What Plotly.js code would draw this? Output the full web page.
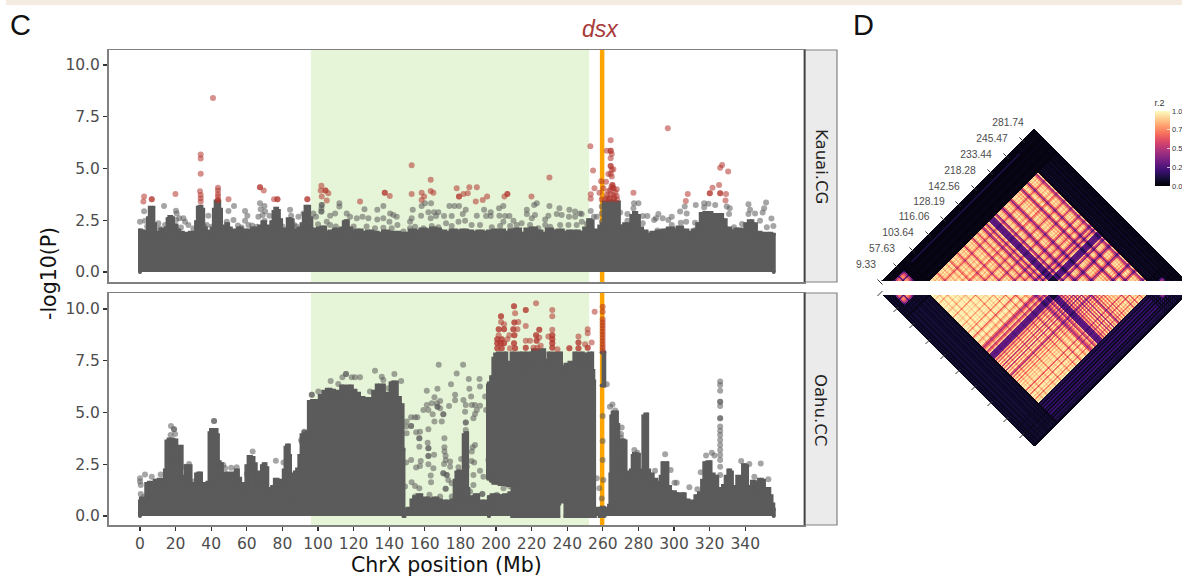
<!DOCTYPE html>
<html><head><meta charset="utf-8">
<script src="https://cdn.plot.ly/plotly-3.0.1.min.js"></script>
<style>html,body{margin:0;padding:0;background:#fff;overflow:hidden}</style>
</head><body><div id="chart" style="width:1182px;height:578px"></div>
<script>
// ---------- Manhattan data (Mb, -log10 P) ----------
const panelNames = ["Kauai.CG", "Oahu.CC"];
const xTicks = [0,20,40,60,80,100,120,140,160,180,200,220,240,260,280,300,320,340];
const yTicks = [0,2.5,5,7.5,10];
const yTickText = ["0.0","2.5","5.0","7.5","10.0"];
const inversionRegion = [96, 252.3];
const dsxPosition = 259.6;

const kauaiMass = [[0,0],[0,2.0],[1,1.9],[2,1.95],[3,1.8],[4,1.9],[5,2.6],[6,3.1],[7,3.1],[8,2.3],[9,1.85],[11,1.9],[12,2.05],[14,1.9],[15,2.1],[16,2.55],[17,2.65],[18,2.6],[19,2.2],[20,2.25],[21,2.0],[23,1.9],[25,1.85],[27,1.8],[29,1.9],[31,1.85],[32,2.4],[33,3.1],[34,3.15],[35,3.0],[36,2.1],[38,1.85],[40,1.95],[41,2.1],[42,3.0],[43,3.4],[44,3.4],[45,3.0],[46,2.1],[47,2.0],[48,2.2],[49,2.3],[50,2.1],[52,1.95],[54,2.0],[56,2.1],[58,1.9],[60,2.0],[62,2.0],[64,2.1],[66,2.05],[68,2.2],[69.5,2.4],[71,2.2],[73,2.0],[74.5,2.4],[75.5,2.9],[76.5,3.05],[77.5,2.95],[78.5,2.5],[80,2.0],[82,2.05],[84,2.55],[85,2.5],[86.5,2.0],[88,2.0],[90,2.1],[91.5,2.3],[92.5,2.8],[93.5,3.15],[94.5,3.15],[95.5,2.6],[97,2.05],[99,2.0],[101,2.1],[103,2.15],[105,1.9],[108,1.95],[110,2.05],[112,1.9],[114,2.1],[115,2.4],[116,2.45],[117.5,2.1],[120,1.95],[123,2.0],[126,1.9],[129,1.95],[132,1.9],[135,1.85],[138,1.95],[141,1.9],[144,1.9],[147,1.85],[150,1.85],[153,2.0],[156,1.95],[159,2.05],[162,2.0],[165,2.1],[167,2.05],[170,1.95],[173,1.9],[176,2.0],[179,1.95],[182,2.0],[185,1.95],[188,1.9],[191,1.95],[194,1.9],[197,1.95],[200,2.0],[203,2.0],[206,1.9],[209,2.0],[212,2.05],[215,1.85],[218,2.05],[221,2.1],[224,1.95],[227,1.85],[230,2.05],[233,1.95],[236,2.0],[239,1.9],[242,1.95],[245,1.95],[248,1.9],[251,2.1],[252.5,2.5],[253.5,2.45],[255,2.0],[257,1.9],[259,2.2],[260,2.3],[261,3.35],[265,3.4],[268.5,3.35],[269.5,2.2],[271,2.0],[273,2.3],[275,2.1],[277,2.7],[278,2.85],[279.5,2.7],[281,2.1],[283,1.95],[286,1.8],[289,1.9],[292,1.95],[295,2.0],[298,2.1],[301,2.0],[303,2.15],[306,2.0],[309,1.9],[312,2.0],[314,2.3],[316,2.8],[318,2.85],[320,2.85],[322,2.4],[324,2.75],[326,2.75],[328,2.5],[330,2.1],[333,1.95],[336,2.05],[339,2.0],[341,2.3],[343,2.45],[345,2.3],[347,1.9],[350,1.85],[353,1.85],[356,1.8],[356,0]];

const kauaiGray = [[2.3,2.93],[13.5,3.19],[20.2,2.96],[20.6,2.83],[22.1,2.59],[24.4,2.59],[25.3,2.43],[27.2,2.27],[20.2,2.51],[38.4,2.72],[0,2.43],[2.8,2.48],[10.3,2.35],[14.1,2.27],[37.5,2.27],[40.3,2.19],[49.7,2.95],[52.8,3.19],[52.5,2.51],[48.7,2.43],[59,2.95],[60.3,2.72],[59,2.48],[60.9,2.27],[67.4,3.32],[69.9,3.19],[67.8,3.03],[70.3,2.92],[68.9,2.75],[66.5,2.67],[69.9,2.48],[65.6,2.19],[72.7,2.72],[84.3,3],[84.9,2.72],[83.9,2.48],[89,2.67],[91.8,2.83],[86.6,2.27],[102.1,3.24],[102.1,3.24],[101.9,3.08],[101.9,2.92],[101.9,2.92],[97.4,2.83],[98.9,2.67],[106.8,2.72],[109.6,2.83],[112,3.32],[112,3.16],[104.9,2.43],[106.8,2.27],[116.1,2.83],[118,2.67],[121.8,2.59],[125,2.67],[126.1,3.03],[128.3,2.59],[133.3,3],[133.3,2.54],[136.7,3.19],[136.7,2.59],[140.5,2.83],[142.3,2.75],[140.1,2.43],[144.2,2.67],[144.6,2.27],[153.2,3],[152.6,2.59],[151.7,2.43],[158.2,3.19],[160.1,3.32],[163.5,3.32],[157.9,2.72],[162,2.88],[165.2,2.88],[167.6,2.88],[163.3,2.59],[166.3,2.71],[170.8,2.71],[173.8,3.19],[176.6,3.19],[179.2,3.19],[175.1,2.71],[181.3,2.8],[183,3],[189.2,2.72],[193.3,3],[197,2.88],[194.4,2.71],[197,2.71],[201.7,3.08],[204.1,3.19],[201.9,2.72],[205.1,2.71],[207.5,2.71],[209.8,2.48],[204.1,2.43],[217.3,3],[217.3,2.8],[221.4,3.24],[222.9,3.32],[221.9,2.75],[220.1,2.59],[230,3.19],[229.4,2.72],[227.6,2.54],[235.6,3.08],[234.1,2.8],[236.9,2.75],[241.2,3],[244.4,2.92],[247.2,2.83],[241,2.67],[244.4,2.67],[253.2,2.95],[256.6,2.67],[248.2,2.43],[248.1,2.8],[255,2.67],[259.4,3.16],[259.4,2.83],[259.4,2.43],[269.7,2.87],[271.5,2.19],[277.5,3.32],[280,3.32],[277.2,3.08],[273.8,2.8],[273.8,2.48],[282.4,2.71],[285,2.71],[282.4,2.35],[291.2,2.8],[289.9,2.59],[288.8,2.51],[293.6,2.59],[296.8,2.51],[298.7,2.67],[303.4,2.92],[306,3.16],[307.1,2.83],[306.8,2.43],[303.8,2.38],[298.7,2.27],[312.2,3.24],[316.9,3.32],[319.3,3.29],[323.1,3.24],[316.9,3.12],[329.6,3.16],[331.3,3.08],[330.9,2.8],[341.8,3.27],[342.7,3],[345.5,2.83],[341.8,2.8],[351.7,3.35],[350.6,3.08],[349.8,2.87],[348.3,2.47],[354.7,2.58],[333.7,2.16],[338.2,2.32],[355.8,2.22],[311.8,2.38],[311.8,2.03],[352.1,2.16],[285.6,1.84],[290.7,2.0],[127.3,2.2],[132,2.11],[136.7,2.14],[141.4,2.11],[148,1.95],[151.7,2.11],[154.5,2.19],[159.2,2.11],[163.9,2.22],[167.6,2.16],[171.9,2.35],[175.1,2.22],[178.9,2.43],[182.6,2.48],[186.3,2.27],[191,2.27],[197.6,2.16],[202.3,2.22],[207.9,2.22],[211.6,2.27],[214.4,2.35],[219.1,2.27],[223.8,2.11],[227.6,2.27],[230.4,2.19],[236,2.27],[240.7,2.27],[245.3,2.27],[251,2.32],[4,2.2],[11,2.1],[23,2.15],[30,2.1],[36,2.2],[44,2.25],[55,2.25],[57,2.15],[63,2.25],[75,2.1],[80,2.2],[88,2.2],[95,2.3],[100,2.3],[110,2.2],[120,2.2]];

const kauaiRed = [[41,8.4],[34.1,5.67],[34.1,5.48],[34.1,4.75],[19.9,3.77],[2.3,3.64],[1.9,3.41],[6.6,3.51],[6.6,3.51],[33.7,3.9],[34.1,3.72],[34.1,3.56],[34.1,3.4],[43.8,4.07],[43.8,3.93],[43.8,3.77],[43.8,3.64],[43.8,3.48],[43.8,3.48],[49.7,3.51],[67.4,4.09],[67.4,4.09],[69.5,3.93],[75.3,3.51],[77.2,3.51],[77.2,3.51],[94,3.51],[94,3.51],[101.9,4.16],[101.5,3.93],[104.2,3.93],[104.2,3.93],[105.8,3.8],[102.1,3.64],[104.9,3.45],[123.6,3.41],[152.6,5.15],[163.3,4.45],[137.5,3.83],[137.5,3.83],[140.3,3.67],[152.6,3.77],[158.2,3.83],[159.6,3.64],[158.2,3.48],[163.3,3.91],[164.8,3.83],[179.2,3.64],[179.2,3.64],[177.9,4.04],[181.7,3.77],[184.1,3.8],[185,4.09],[189.2,4.09],[188.6,3.41],[192.5,3.48],[195,3.64],[204.7,3.64],[206.4,3.77],[206.4,3.77],[219.9,3.64],[230,4.56],[253.2,3.75],[253.2,3.54],[254.5,4.9],[255.3,4.04],[258.1,3.83],[296.5,6.94],[264.4,6.36],[253,6.07],[262.2,5.85],[264.4,5.86],[264.4,5.86],[265,5.7],[264.4,5.49],[264.4,5.12],[264.4,5.12],[265,4.93],[265.9,4.96],[264.4,4.73],[265,4.61],[263.1,4.73],[261.8,4.36],[259,4.38],[260.3,4.04],[265.4,4.2],[265.4,4.2],[265.9,4.04],[265.9,4.04],[267.8,3.99],[264.1,3.96],[262.2,3.72],[265.9,3.72],[267.8,3.67],[263.1,3.51],[265.9,3.51],[259.4,3.51],[261.5,3.5],[262.5,3.6],[264,3.55],[264.5,3.75],[266.5,3.6],[267,3.85],[268,3.5],[263,3.9],[264.8,4.1],[277.2,3.83],[307.7,3.77],[306.6,3.43],[320.1,3.8],[320.1,3.8],[321.6,4.07],[325.3,4.2],[325.9,3.8],[325.9,3.8],[329.2,3.77],[328.9,3.45],[327,5.17],[325.9,5.04],[330.4,4.85]];

const oahuMass = [
[0,0],[0,.7],[1,.85],[2,.7],[3,.8],[4,1.55],[6,1.6],[7.5,1.55],[9,1.7],[12,1.75],[13.5,1.5],[14.5,2.2],[15.2,3.6],[17,3.7],[20,3.65],[20.8,2.6],[21.3,3.3],[23,3.35],[23.8,1.9],[25.5,1.4],[26.2,2.4],[28,2.4],[28.8,1.5],[31,1.55],[32,2.0],[33.5,2.05],[35,1.55],[37,1.45],[38.8,1.6],[39.3,4.0],[40.5,4.15],[42.5,4.15],[43.5,3.9],[44,2.6],[45.5,2.5],[46.5,1.9],[48.5,2.05],[51,2.0],[53,2.05],[54.5,2.2],[55.5,1.8],[57,1.55],[59,1.25],[60.5,2.4],[61.5,2.85],[63,2.8],[64.5,2.5],[65.5,2.1],[67,1.5],[68,1.4],[69,2.4],[70,2.5],[71,2.3],[72,1.3],[73.5,.95],[75,1.4],[76.5,1.75],[78,1.65],[80,1.7],[81.5,2.2],[82,3.3],[83.2,3.4],[84,2.9],[84.5,2.0],[85.5,.9],[86.5,.7],[87.5,2.1],[89,2.25],[90,2.9],[91.5,3.9],[93,4.0],[94.5,4.05],[95.2,5.5],[98,5.55],[100,5.55],[102,5.8],[104,6.0],[106,6.1],[108,6.05],[110,5.85],[112,6.0],[114,6.25],[118,6.25],[120,6.05],[122,5.9],[124,5.7],[127,5.65],[130,5.65],[132,6.0],[134,6.3],[136,6.3],[138,5.9],[140,5.85],[141.5,6.4],[143.5,6.45],[145,5.7],[147,5.35],[148,3.2],[148,0],[null,null],
[148,0],[149,.3],[152,.35],[153,.75],[155,.9],[157,1.0],[159,.8],[161,.85],[162.5,.55],[164,.8],[166,.85],[168,.75],[170,.45],[172,.7],[174,.5],[176,.75],[177.5,1.7],[178,2.1],[179.5,2.15],[180.3,1.0],[181.5,.5],[182.2,3.9],[183.5,4.0],[184,1.3],[185,.85],[187,.9],[189,1.0],[191,.6],[193,.7],[195,.5],[196,.6],[196,0],[null,null],
[195.5,1.8],[195.5,6.3],[196.5,6.4],[198,6.7],[199,7.6],[200,7.8],[202,7.85],[205,7.85],[206.5,7.3],[208,7.4],[209.5,7.85],[214,7.85],[214.6,7.0],[215.8,7.1],[216.5,7.85],[219.5,7.85],[220.5,7.3],[221,8.0],[226.5,8.0],[227.5,7.5],[229,7.4],[230,7.85],[236,7.85],[237,7.1],[238.5,7.2],[239.5,7.3],[243,7.4],[245,7.85],[248,7.85],[249.5,7.4],[251,7.8],[253.7,7.85],[254.3,7.0],[255,6.5],[255.2,.4],[255,0],[239,0],[239,.7],[236,1.4],[235,.6],[235,0],[209.5,0],[209,1.5],[204,1.55],[200,1.6],[197,1.7],[null,null],
[196,0],[196,.9],[199,1.0],[203,.95],[206,1.0],[209,1.1],[209.5,0],[null,null],
[255,0],[256,.3],[258,.35],[258.5,0],[null,null],
[259.3,6.3],[260.8,6.3],[260.8,7.9],[259.3,7.9],[null,null],
[259.5,0],[259.5,.4],[260.5,.4],[260.5,0],[null,null],
[261,0],[261,.3],[263,.35],[264,.5],[264.5,2],[265,4.8],[266,5.0],[267.5,5.0],[268.3,4.4],[269,2.5],[270,3.4],[271,3.65],[272.5,3.6],[273,2.1],[275,2.05],[276.5,2.2],[277,2.9],[278,3.0],[280,2.95],[280.5,2.2],[282.5,2.0],[283,4.8],[284.8,4.9],[285,2.2],[287,2.0],[289,1.75],[291,1.6],[292,1.5],[293,1.9],[294,2.55],[296,2.55],[296.5,1.4],[299,1.15],[302,1.05],[305,1.05],[307,.75],[309,.7],[311,.6],[313,.95],[315,1.1],[316.5,1.7],[317.5,2.55],[320,2.6],[321,2.0],[323.5,1.9],[325,1.3],[327,1.3],[328,1.45],[330,1.9],[331,2.2],[332,2.1],[333,1.4],[335,1.3],[336,1.9],[338,1.85],[339.5,2.45],[340.5,2.4],[341.5,1.4],[343,1.4],[344.5,1.65],[346,1.6],[347,1.1],[348.5,1.75],[350,1.7],[351,1.0],[353,1.3],[354,.95],[355.5,.55],[356,.3],[356,0]];

const oahuGray = [[167.8,7.31],[181.5,7.31],[177.9,6.88],[184.7,6.62],[190.7,6.62],[174.7,6.36],[191,6.26],[185,6.14],[167.1,6.14],[161.1,6.05],[177,5.86],[165.4,5.73],[186,5.77],[193.9,5.77],[177,5.59],[181.7,5.6],[168.6,5.55],[166.7,5.44],[163.9,5.44],[161.1,5.36],[159.2,5.12],[162,5.12],[168.6,5.2],[173.6,5.31],[186.4,5.36],[188.2,5.36],[183,5.36],[191,5.33],[189.2,5.12],[182.6,5.04],[194.4,5.12],[167.1,5.28],[167.1,5.28],[164.4,4.91],[170.4,4.91],[170.4,4.91],[188.2,4.93],[187.3,4.72],[165.4,4.56],[169.5,4.56],[154.5,4.77],[152.3,4.77],[155.8,4.77],[149.8,4.56],[152.3,4.35],[152.3,4.35],[149.5,4.32],[149.8,4],[155.1,4.04],[157.3,4.07],[156.9,3.75],[156.9,3.75],[162,4.19],[183,4.52],[183,4.52],[183,4.15],[171,3.75],[161.6,3.54],[162,3.27],[162,3.27],[156.9,3.35],[171,3.32],[171,3.11],[162,2.9],[162,2.9],[165.2,2.96],[157.7,2.66],[152.3,2.71],[149.5,2.58],[155.1,2.34],[157.3,2.42],[162,2.5],[164.8,2.3],[171.7,2.91],[171.7,2.71],[174.2,2.63],[170.8,2.51],[188.2,3.43],[186.9,3.32],[186.4,3.11],[180.4,2.75],[186.2,2.66],[187.7,2.58],[183.6,2.38],[174.2,2.38],[163.3,1.95],[163.5,1.63],[170.4,2.06],[170.4,2.06],[172.3,1.98],[172.3,1.98],[173.2,1.74],[175.1,1.58],[178.9,2.35],[187.3,1.98],[191,2.19],[192.9,1.9],[195.7,2.71],[196.7,1.98],[152.6,1.63],[156.9,1.34],[154.5,1.45],[148.9,1.42],[162.6,1.02],[171.7,1.31],[171.7,1.31],[192.3,1.06],[192.3,1.06],[187.3,1.5],[175.1,.94],[200.4,1.02],[204.2,1.34],[207.9,1.42],[154.5,.94],[168.6,.94],[185.4,1.18],[96.5,5.85],[96.5,5.85],[100.2,6.01],[107.1,6.52],[111.4,6.38],[113.7,6.7],[115.7,6.86],[115.7,6.86],[118.9,6.7],[120.8,6.7],[123.6,6.7],[132,7.02],[135.8,6.73],[142.9,6.86],[146.7,6.52],[129.2,6.01],[92.3,4.07],[90.5,3.67],[141.8,6.41],[139.5,6.17],[136.7,6.57],[17.4,4.35],[19.1,4.19],[19.1,4.19],[19.7,3.96],[17.2,3.91],[41.6,4.59],[41.6,4.59],[0,1.82],[0,1.66],[2.8,2.01],[6.6,1.9],[11.6,2.01],[.4,1.5],[.4,1.06],[2.3,.93],[25.3,2.38],[27.6,2.51],[30,1.66],[46.8,2.46],[47.8,2.3],[51.2,2.33],[54.3,2.35],[49.7,1.98],[63.3,3.11],[60,2.03],[76.3,2.67],[80.6,2.58],[92.2,4.04],[90.9,3.59],[265.4,5.39],[264,5.28],[266.9,5.09],[270.6,4.28],[270.2,3.96],[270.2,3.78],[259.9,4.83],[259.9,3.62],[259.9,2.71],[262.2,6.36],[277.7,3.19],[279.4,3.06],[278.1,2.87],[289.3,2.19],[295,2.98],[298.1,2.22],[300.2,1.61],[301.5,1.61],[308.6,1.39],[313.1,1.29],[315,2.11],[318,2.92],[321.2,3.06],[322.7,2.92],[325.9,6.49],[325.9,6.33],[325.9,6.05],[325.9,5.52],[325.9,5.52],[325.9,5.31],[325.9,4.72],[325.9,4.72],[325.9,4.32],[325.9,4.12],[325.9,3.91],[325.9,3.67],[325.9,3.43],[325.9,3.19],[325.9,2.95],[325.9,2.71],[325.9,2.38],[325.9,1.98],[337.7,2.66],[342.3,2.51],[348.7,2.54],[345.1,1.9],[353,1.77],[258,1.34],[256.6,1.82],[259.4,.85],[260.3,1.74]];

const oahuRed = [[210.1,10.13],[210.1,10.13],[210.7,9.79],[202.8,9.65],[202.8,9.65],[216.7,9.95],[216.7,9.95],[222.5,10.28],[231.6,9.95],[231.6,9.65],[255.4,9.86],[259.9,10.1],[259.9,9.86],[202.8,9.37],[204.5,9.26],[210.3,9.34],[210.3,9.34],[216.7,9.18],[224.3,9],[224.3,9],[231.6,9],[201.5,9.02],[201.5,9.02],[204.5,9.02],[204.5,9.02],[209.7,9.02],[209.7,9.02],[212,9.02],[212.5,9.37],[251.5,9.02],[251.5,8.83],[201.5,8.73],[207.5,8.73],[210.3,8.73],[210.3,8.73],[222.5,8.73],[222.5,8.73],[229.4,8.67],[231.6,8.73],[231.6,8.73],[224.3,8.62],[231.6,8.54],[231.6,8.54],[200.7,8.54],[200.7,8.54],[203.2,8.54],[203.2,8.54],[200.7,8.34],[200.7,8.34],[202.6,8.34],[202.6,8.34],[204.5,8.34],[204.5,8.34],[210.1,8.34],[210.1,8.34],[206.4,8.54],[216.7,8.46],[219.1,8.46],[222.8,8.46],[222.8,8.46],[225.1,8.22],[231.6,8.34],[231.6,8.34],[250,8.3],[253.7,8.38],[246.3,8.67],[246.3,8.38],[246.3,8.38],[200.7,8.1],[200.7,8.1],[203.2,8.1],[203.2,8.1],[207.9,8.1],[210.7,8.1],[210.7,8.1],[216.7,8.13],[216.7,8.13],[221,8.13],[223.2,8.13],[231.6,8.13],[231.6,8.13],[234.5,8.05],[241.2,8.1],[241.2,8.1],[246.3,8.1],[246.3,8.1],[251.5,8.13],[251.5,8.13],[259.9,9.5],[259.9,9.35],[259.9,9.2],[259.9,9.05],[259.9,8.9],[259.9,8.75],[259.9,8.6],[259.9,8.45],[259.9,8.3],[259.9,8.15],[259.9,8]];

// ---------- LD heatmap data ----------
const ldLabels = ["9.33","57.63","103.64","116.06","128.19","142.56","218.28","233.44","245.47","281.74"];
const ldTickOffsets = [-2,14,30,46,61,76,92,108,124,140];
// stripe strength of each marker bin inside the large LD block (Kauai = upper, Oahu = lower)
const ldBlockUpper = [.95,.98,.9,.98,.92,.97,.86,.7,.9,.97,.94,.98,.88,.96,.99,.92,.85,.96,.98,.72,.8,.95,.98,.9,.97,.93,.84,.66,.88,.98,.95,.9,.98,.86,.62,.84,.97,.94,.98,.89,.96,.76,.58,.88,.98,.92,.86,.66,.88,.97,.93,.78,.48,.6,.92,.74,.46,.82,.95,.32,.3,.28,.3,.33,.9,.62,.46,.92,.96,.93,.85,.6,.42,.68,.94,.97,.9,.96,.86,.72,.44,.62,.92,.97,.94,.98,.88,.95,.84,.94,.66,.44,.72,.96,.98,.92,.74,.44,.7,.96,.93,.98,.9,.96,.85,.62,.5,.92];
const ldBlockLower = [.98,1,.96,.99,.9,.97,1,.98,.86,.97,1,.97,.99,.93,1,.98,.96,.88,.98,1,.97,.99,.8,.97,1,.96,.99,.92,.98,1,.97,.84,.99,.96,1,.93,.98,.78,.96,1,.98,.95,.7,.88,.98,1,.96,.82,.9,.98,.95,.7,.52,.62,.8,.92,.58,.7,.9,.32,.3,.28,.3,.34,.82,.62,.9,.7,.98,.74,.95,.56,.92,.72,.98,.56,.94,.8,.97,.66,.5,.9,.7,.96,.8,.98,.72,.95,.85,.99,.88,.96,.9,.98,.93,.68,.96,.9,.98,.72,.96,.99,.9,.97,.76,.96,.92,.98];
const ldSmallBlockLeft = [.5,.8,.9,.85,.4,.9,.95,.85,.7,.5];
const ldSmallBlockRight = [.4,.7,.7,.4];
const ldFaintLeftUpper = [.02,.02,.01,.02,.02,.12,.02,.02,.01,.02,.03,.02,.01,.02,.02,.03,.02,.01,.02,.02,.03,.02,.01,.02];
const ldFaintRightUpper = [.04,.02,.06,.03,.07,.02,.05,.03,.06,.02,.04,.06,.02,.03,.05,.02,.04,.02,.03,.02];
const ldFaintLeftLower = [.05,.08,.04,.09,.04,.07,.1,.05,.06,.09,.05,.08,.1,.05,.07,.05,.09,.06,.05,.1,.05,.08,.05,.03];
const ldFaintRightLower = [.07,.14,.05,.17,.07,.2,.06,.14,.04,.18,.08,.2,.05,.12,.05,.15,.07,.11,.04,.03];
const colorbarTicks = [0,.25,.5,.75,1];
const colorbarText = ["0.00","0.25","0.50","0.75","1.00"];
const magma = [[0,"#000004"],[.1,"#140e36"],[.2,"#3b0f70"],[.3,"#641a80"],[.4,"#8c2981"],[.5,"#b73779"],[.6,"#de4968"],[.7,"#f7705c"],[.8,"#fe9f6d"],[.9,"#fecf92"],[1,"#fcfdbf"]];

// ---------- page geometry ----------
const W = 1182, H = 578;
const px = v => v / W, py = v => 1 - v / H;
const GRAY = "#5b5b5b", RED = "#b2342e", TICK = "#4d4d4d";
const DEJA = "DejaVu Sans, sans-serif", LIB = "Liberation Sans, Arial, sans-serif";
const col = (a, k) => a.map(p => p[k]);

const massTrace = (pts, xa, ya) => ({type:"scatter", mode:"lines+markers", x:col(pts,0), y:col(pts,1), xaxis:xa, yaxis:ya,
  fill:"toself", fillcolor:GRAY, line:{color:GRAY, width:4, shape:"hvh"}, marker:{color:GRAY,size:4}, hoverinfo:"skip", showlegend:false});
const dotTrace = (pts, color, xa, ya) => ({type:"scatter", mode:"markers", x:col(pts,0), y:col(pts,1), xaxis:xa, yaxis:ya,
  marker:{color:color, size:6, opacity:.55, line:{width:0}}, hoverinfo:"skip", showlegend:false, cliponaxis:false});

// ---------- LD matrix on a rotated grid ----------
const L0 = 882, L1 = 1186, GAP = 14.5;
const binOf = t => Math.floor((t - L0) / 2);
function ldValue(i, j, block, faintL, faintR) {
  const a = binOf(i), b = binOf(j);
  if (a >= 24 && a < 132 && b >= 24 && b < 132) return block[a-24] * block[b-24];
  if (a >= 6 && a < 16 && b >= 6 && b < 16) return ldSmallBlockLeft[a-6] * ldSmallBlockLeft[b-6] * .9;
  if (a >= 138 && a < 142 && b >= 138 && b < 142) return ldSmallBlockRight[a-138] * ldSmallBlockRight[b-138] * .9;
  const f = k => k < 24 ? faintL[k] : (k >= 132 ? faintR[k-132] : .01);
  const outA = a < 24 || a >= 132, outB = b < 24 || b >= 132;
  if (outA && outB) return Math.min(f(a), f(b)) + .01;
  return f(a) + f(b);
}
const gridX = [], gridY = [], gridZ = [];
for (let x = L0; x <= L1; x++) gridX.push(x);
for (let y = -166; y <= 152; y++) {
  gridY.push(y);
  const row = [];
  for (const x of gridX) {
    let v = null;
    if (y >= 0) {
      const i = x - y, j = x + y;
      if (i >= L0 && j <= L1) v = ldValue(i, j, ldBlockUpper, ldFaintLeftUpper, ldFaintRightUpper);
    } else if (y <= -GAP) {
      const h = -GAP - y, i = x - h, j = x + h;
      if (i >= L0 && j <= L1) v = ldValue(i, j, ldBlockLower, ldFaintLeftLower, ldFaintRightLower);
    }
    row.push(v);
  }
  gridZ.push(row);
}

const traces = [
  massTrace(kauaiMass,"x","y"), dotTrace(kauaiGray,GRAY,"x","y"), dotTrace(kauaiRed,RED,"x","y"),
  massTrace(oahuMass,"x2","y2"), dotTrace(oahuGray,GRAY,"x2","y2"), dotTrace(oahuRed,RED,"x2","y2"),
  {type:"heatmap", x:gridX, y:gridY, z:gridZ, xaxis:"x3", yaxis:"y3", zmin:0, zmax:1, colorscale:magma, hoverinfo:"skip",
   zsmooth:false, connectgaps:false,
   colorbar:{x:px(1154.5), xanchor:"left", xpad:0, y:1-186/H, yanchor:"bottom", ypad:0, thickness:15, thicknessmode:"pixels",
     len:90, lenmode:"pixels", outlinewidth:0, ticks:"inside", ticklen:3, tickcolor:"#ffffff", tickwidth:.7,
     tickvals:colorbarTicks, ticktext:colorbarText, tickfont:{family:LIB,size:7.5,color:"#333"},
     title:{text:"r.2", side:"top", font:{family:LIB,size:9,color:"#333"}}}},
  {type:"scatter", mode:"markers", x:ldTickOffsets.map(k=>L0+k), y:ldTickOffsets.map(k=>k+.5), xaxis:"x3", yaxis:"y3",
   marker:{symbol:"line-nw", size:5, line:{width:1,color:"#333"}}, hoverinfo:"skip", showlegend:false, cliponaxis:false},
  {type:"scatter", mode:"markers", x:ldTickOffsets.map(k=>L0+k), y:ldTickOffsets.map(k=>-GAP-k-.5), xaxis:"x3", yaxis:"y3",
   marker:{symbol:"line-ne", size:5, line:{width:1,color:"#333"}}, hoverinfo:"skip", showlegend:false, cliponaxis:false},
  {type:"scatter", mode:"text", x:ldTickOffsets.map(k=>L0+k-14), y:ldTickOffsets.map(k=>k+17), text:ldLabels, textposition:"middle center",
   textfont:{family:LIB,size:10.3,color:TICK}, xaxis:"x3", yaxis:"y3", hoverinfo:"skip", showlegend:false, cliponaxis:false}
];

const xBase = {range:[-17.7,373], showgrid:false, zeroline:false, showline:true, mirror:true, linecolor:"#808080", linewidth:1.5, domain:[px(108.5),px(804)]};
const yBase = {showgrid:false, zeroline:false, showline:true, mirror:true, linecolor:"#808080", linewidth:1.5,
  tickmode:"array", tickvals:yTicks, ticktext:yTickText, ticks:"outside", ticklen:4, tickcolor:"#333", tickwidth:1.2,
  tickfont:{family:DEJA,size:15.5,color:TICK}};
const bandShapes = ["", "2"].flatMap(s => [
  {type:"rect", layer:"below", xref:"x"+s, yref:"y"+s+" domain", x0:inversionRegion[0], x1:inversionRegion[1], y0:0, y1:1, fillcolor:"#e6f5d8", line:{width:0}},
  {type:"line", layer:"below", xref:"x"+s, yref:"y"+s+" domain", x0:dsxPosition, x1:dsxPosition, y0:0, y1:1, line:{color:"#ffa500", width:4.5}}
]);
const stripShape = (y0,y1) => ({type:"rect", xref:"paper", yref:"paper", x0:px(805), x1:px(837), y0:py(y1), y1:py(y0), fillcolor:"#ebebeb", line:{color:"#808080",width:1.2}});
const divider = (y0,y1) => ({type:"line", xref:"paper", yref:"paper", x0:px(804.5), x1:px(804.5), y0:py(y1), y1:py(y0), line:{color:"#444",width:1.8}});

const layout = {
  width:W, height:H, margin:{l:0,r:0,t:0,b:0,autoexpand:false}, paper_bgcolor:"#fff", plot_bgcolor:"rgba(0,0,0,0)", showlegend:false,
  xaxis:{...xBase, anchor:"y", showticklabels:false, ticks:""},
  yaxis:{...yBase, anchor:"x", domain:[py(282),py(50)], range:[-.483,10.72]},
  xaxis2:{...xBase, anchor:"y2", tickmode:"array", tickvals:xTicks, ticks:"outside", ticklen:4, tickcolor:"#333", tickwidth:1.2,
    tickfont:{family:DEJA,size:15.5,color:TICK}},
  yaxis2:{...yBase, anchor:"x2", domain:[py(525),py(293)], range:[-.435,10.77]},
  xaxis3:{domain:[px(840),1], range:[840,1182], visible:false, anchor:"y3", fixedrange:true},
  yaxis3:{domain:[py(446),py(100)], range:[-165.5,180.5], visible:false, anchor:"x3", fixedrange:true},
  shapes:[
    {type:"rect", xref:"paper", yref:"paper", x0:px(6), x1:1, y0:py(5), y1:1, fillcolor:"#f5ece1", line:{width:0}},
    ...bandShapes, stripShape(50,282), stripShape(293,525), divider(50,282), divider(293,525)
  ],
  annotations:[
    {text:"C", xref:"paper", yref:"paper", x:px(8), y:py(25), xanchor:"left", yanchor:"middle", showarrow:false, font:{family:LIB,size:29,color:"#111"}},
    {text:"D", xref:"paper", yref:"paper", x:px(851), y:py(25), xanchor:"left", yanchor:"middle", showarrow:false, font:{family:LIB,size:29,color:"#111"}},
    {text:"<i>dsx</i>", xref:"paper", yref:"paper", x:px(600), y:py(29), xanchor:"center", yanchor:"middle", showarrow:false, font:{family:LIB,size:23,color:"#a83a3a"}},
    {text:"ChrX position (Mb)", xref:"paper", yref:"paper", x:px(446.5), y:py(565), xanchor:"center", yanchor:"middle", showarrow:false, font:{family:DEJA,size:20.5,color:"#111"}},
    {text:"-log10(P)", xref:"paper", yref:"paper", x:px(49), y:py(274), xanchor:"center", yanchor:"middle", textangle:-90, showarrow:false, font:{family:DEJA,size:20.5,color:"#111"}},
    {text:panelNames[0], xref:"paper", yref:"paper", x:px(821), y:py(166), xanchor:"center", yanchor:"middle", textangle:90, showarrow:false, font:{family:DEJA,size:16.5,color:"#222"}},
    {text:panelNames[1], xref:"paper", yref:"paper", x:px(821), y:py(410), xanchor:"center", yanchor:"middle", textangle:90, showarrow:false, font:{family:DEJA,size:16.5,color:"#222"}}
  ]
};
Plotly.newPlot("chart", traces, layout, {displayModeBar:false, staticPlot:true, responsive:false});
</script></body></html>
